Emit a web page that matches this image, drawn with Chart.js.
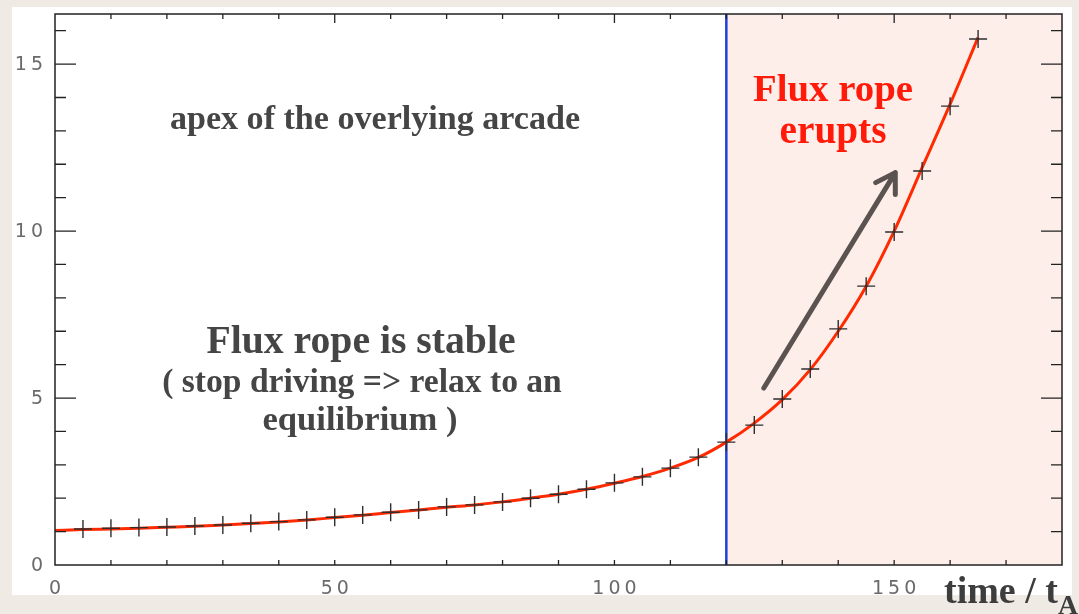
<!DOCTYPE html>
<html>
<head>
<meta charset="utf-8">
<script src="https://cdn.jsdelivr.net/npm/chart.js@4"></script>
<style>
  html, body { margin: 0; padding: 0; background: #efebe4; }
  #wrap { position: absolute; left: 0; top: 0; width: 1079px; height: 614px; }
</style>
</head>
<body>
<div id="wrap"><canvas id="myChart" width="1079" height="614"></canvas></div>
<script>
// height of the overlying arcade apex vs time
let markerX = [5, 10, 15, 20, 25, 30, 35, 40, 45, 50, 55, 60, 65, 70, 75, 80, 85, 90, 95, 100,
    105, 110, 115, 120, 125, 130, 135, 140, 145, 150, 155, 160, 165];
let markerY = [1.08, 1.10, 1.12, 1.14, 1.17, 1.20, 1.25, 1.30, 1.35, 1.43, 1.50, 1.58, 1.65, 1.74, 1.80, 1.89, 2.00, 2.12, 2.27, 2.46,
    2.64, 2.90, 3.23, 3.68, 4.19, 4.97, 5.87, 7.07, 8.35, 9.97, 11.80, 13.74, 15.75];

let curveX = [0, 5, 10, 15, 20, 25, 30, 35, 40, 45, 50, 55, 60, 65, 70, 75, 80, 85, 90, 95, 100,
    105, 110, 115, 120, 125, 130, 135, 140, 145, 150, 155, 160, 165];
let curveY = [1.03, 1.06, 1.08, 1.10, 1.13, 1.16, 1.20, 1.24, 1.29, 1.35, 1.42, 1.49, 1.57, 1.65, 1.73, 1.80, 1.89, 2.00, 2.12, 2.27, 2.45,
    2.65, 2.90, 3.22, 3.68, 4.25, 4.95, 5.85, 7.00, 8.35, 10.00, 11.90, 13.80, 15.80];

let xTicks = [0, 50, 100, 150];
let yTicks = [0, 5, 10, 15];
let eruptStart = 120;

let arrowFrom = [126.7, 5.3];
let arrowTo = [150.2, 11.75];

let ctx = document.getElementById("myChart").getContext('2d');

function fitText(c, text, x, y, width, weight, family, color, align) {
    c.font = weight + ' 30px ' + family;
    let size = 30 * width / c.measureText(text).width;
    c.font = weight + ' ' + size.toFixed(1) + 'px ' + family;
    c.fillStyle = color;
    c.textAlign = align || 'center';
    c.textBaseline = 'alphabetic';
    c.fillText(text, x, y);
    return size;
}

let framePlugin = {
    id: 'frame',
    beforeDraw(chart) {
        let c = chart.ctx;
        let a = chart.chartArea;
        let xs = chart.scales.x;
        c.save();
        c.fillStyle = '#ffffff';
        c.fillRect(12, 7, 1060, 588);
        c.fillStyle = '#fdeeea';
        let px = xs.getPixelForValue(eruptStart);
        c.fillRect(px, a.top, a.right - px, a.bottom - a.top);
        c.restore();
    },
    beforeDatasetsDraw(chart) {
        let c = chart.ctx;
        let a = chart.chartArea;
        let px = chart.scales.x.getPixelForValue(eruptStart);
        c.save();
        c.strokeStyle = '#1d3fe0';
        c.lineWidth = 2.5;
        c.beginPath();
        c.moveTo(px, a.top);
        c.lineTo(px, a.bottom);
        c.stroke();
        c.restore();
    },
    afterDatasetsDraw(chart) {
        let c = chart.ctx;
        let a = chart.chartArea;
        let xs = chart.scales.x;
        let ys = chart.scales.y;
        c.save();
        c.strokeStyle = '#222';
        c.lineWidth = 1.5;
        c.strokeRect(a.left, a.top, a.right - a.left, a.bottom - a.top);
        c.lineWidth = 1.3;
        c.beginPath();
        for (let v = 10; v < xs.max; v += 10) {
            let p = xs.getPixelForValue(v);
            let top = v % 50 === 0 ? 9 : 5;
            c.moveTo(p, a.bottom); c.lineTo(p, a.bottom - 5);
            c.moveTo(p, a.top); c.lineTo(p, a.top + top);
        }
        for (let v = 1; v < ys.max; v += 1) {
            let p = ys.getPixelForValue(v);
            let len = v % 5 === 0 ? 21 : 11;
            c.moveTo(a.left, p); c.lineTo(a.left + len, p);
            c.moveTo(a.right, p); c.lineTo(a.right - len, p);
        }
        c.stroke();

        // tick labels
        c.fillStyle = '#6a6a6a';
        c.font = '19px "DejaVu Sans", "Liberation Sans", sans-serif';
        c.letterSpacing = '4px';
        c.textBaseline = 'middle';
        c.textAlign = 'center';
        xTicks.forEach(v => c.fillText(String(v), xs.getPixelForValue(v) + 2, 589));
        c.textAlign = 'right';
        yTicks.forEach(v => c.fillText(String(v), a.left - 8, ys.getPixelForValue(v) + 1));
        c.letterSpacing = '0px';
        c.restore();
    },
    afterDraw(chart) {
        let c = chart.ctx;
        let xs = chart.scales.x;
        let ys = chart.scales.y;
        let serif = '"Liberation Serif", "Times New Roman", serif';
        c.save();
        fitText(c, 'apex of the overlying arcade', 375, 129, 411, 'bold', serif, '#454545');
        fitText(c, 'Flux rope is stable', 361, 353, 309, 'bold', serif, '#454545');
        fitText(c, '( stop driving => relax to an', 362, 392, 400, 'bold', serif, '#454545');
        fitText(c, 'equilibrium )', 360, 430, 195, 'bold', serif, '#454545');
        fitText(c, 'Flux rope', 833, 101, 160, 'bold', serif, '#ff1a0a');
        fitText(c, 'erupts', 833, 143, 107, 'bold', serif, '#ff1a0a');
        fitText(c, 'time / t', 944, 603, 114, 'bold', serif, '#3d3d3d', 'left');
        fitText(c, 'A', 1058, 614, 20, 'bold', serif, '#3d3d3d', 'left');

        // arrow
        let x1 = xs.getPixelForValue(arrowFrom[0]), y1 = ys.getPixelForValue(arrowFrom[1]);
        let x2 = xs.getPixelForValue(arrowTo[0]), y2 = ys.getPixelForValue(arrowTo[1]);
        let ang = Math.atan2(y2 - y1, x2 - x1);
        c.strokeStyle = '#5b5350';
        c.lineWidth = 5;
        c.lineCap = 'round';
        c.lineJoin = 'round';
        c.beginPath();
        c.moveTo(x1, y1);
        c.lineTo(x2, y2);
        c.moveTo(x2 - 22 * Math.cos(ang - 0.55), y2 - 22 * Math.sin(ang - 0.55));
        c.lineTo(x2, y2);
        c.lineTo(x2 - 22 * Math.cos(ang + 0.55), y2 - 22 * Math.sin(ang + 0.55));
        c.stroke();
        c.restore();
    }
};

let chart1 = new Chart(ctx, {
    type: 'scatter',
    data: {
        datasets: [{
                label: 'simulation',
                data: markerX.map((x, i) => ({ x: x, y: markerY[i] })),
                pointStyle: 'cross',
                pointRadius: 9,
                pointBorderWidth: 1.4,
                borderColor: '#2e2e2e',
                showLine: false
            },
            {
                label: 'fit',
                data: curveX.map((x, i) => ({ x: x, y: curveY[i] })),
                showLine: true,
                borderColor: '#ff2a00',
                borderWidth: 3,
                pointRadius: 0,
                cubicInterpolationMode: 'monotone'
            }
        ]
    },
    options: {
        responsive: false,
        animation: false,
        layout: { padding: { left: 55, top: 14, right: 17, bottom: 49 } },
        scales: {
            x: { type: 'linear', min: 0, max: 180, display: false },
            y: { type: 'linear', min: 0, max: 16.5, display: false }
        },
        plugins: {
            legend: { display: false },
            tooltip: { enabled: false }
        }
    },
    plugins: [framePlugin]
});
</script>
</body>
</html>
